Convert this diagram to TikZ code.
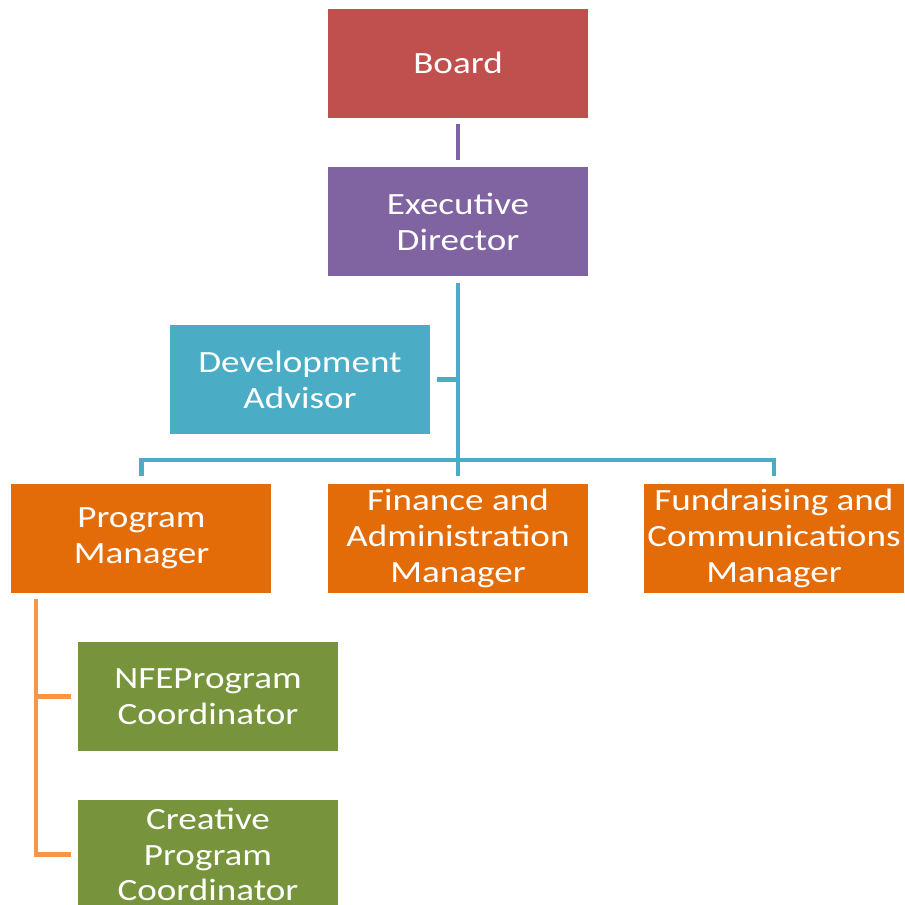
\documentclass[tikz,border=0pt]{standalone}
\usepackage{fontspec}
\setmainfont{Carlito}
\newfontfamily\boxfont[FakeStretch=1.2]{Carlito}
\definecolor{BoardRed}{HTML}{C0504D}
\definecolor{ExecPurple}{HTML}{8064A2}
\definecolor{DevCyan}{HTML}{4BACC6}
\definecolor{MgrOrange}{HTML}{E36C09}
\definecolor{LinkOrange}{HTML}{F79646}
\definecolor{CoordGreen}{HTML}{77933C}

\tikzset{
  box/.style={rectangle, minimum width=2.6cm, minimum height=1.09cm, inner sep=1pt,
    text=white, align=center, font=\boxfont\fontsize{8.8}{10.2}\selectfont},
  link/.style={line width=1.4pt},
}

\begin{document}
\begin{tikzpicture}

 \useasboundingbox (0,0) rectangle (9.05,-9.05);

 %%%%%%%%%% Boxes %%%%%%%%%%
 \node[box, fill=BoardRed] (board) at (4.58,-0.63) {Board};
 \node[box, fill=ExecPurple] (exec) at (4.58,-2.215) {Executive\\Director};
 \node[box, fill=DevCyan] (dev) at (3.00,-3.795) {Development\\Advisor};

 \node[box, fill=MgrOrange] (pm) at (1.415,-5.385) {Program\\Manager};
 \node[box, fill=MgrOrange] (fin) at (4.58,-5.385) {Finance and\\Administration\\Manager};
 \node[box, fill=MgrOrange] (fund) at (7.74,-5.385) {Fundraising and\\Communications\\Manager};

 \node[box, fill=CoordGreen] (nfe) at (2.08,-6.965) {NFEProgram\\Coordinator};
 \node[box, fill=CoordGreen] (creative) at (2.08,-8.545) {Creative\\Program\\Coordinator};

 %%%%%%%%%% Links %%%%%%%%%%
 \draw[link, color=ExecPurple] ([yshift=-0.6mm]board.south) -- ([yshift=0.6mm]exec.north);

 % bus to managers
 \coordinate (bus) at (4.58,-4.60);
 \draw[link, color=DevCyan] ([yshift=-0.6mm]exec.south) -- (bus);
 \draw[link, color=DevCyan] ([yshift=0.7mm]pm.north) |- (bus) -| ([yshift=0.7mm]fund.north);
 \draw[link, color=DevCyan] ([yshift=0.7mm]fin.north) -- (bus);
 \draw[link, color=DevCyan] ([xshift=0.6mm]dev.east) -- (dev.east -| bus);

 % coordinators under program manager
 \coordinate (spine) at (0.36,-5.99);
 \draw[link, color=LinkOrange] (spine) |- ([xshift=-0.6mm]creative.west);
 \draw[link, color=LinkOrange] ([xshift=-0.6mm]nfe.west) -- (nfe.west -| spine);

\end{tikzpicture}
\end{document}
